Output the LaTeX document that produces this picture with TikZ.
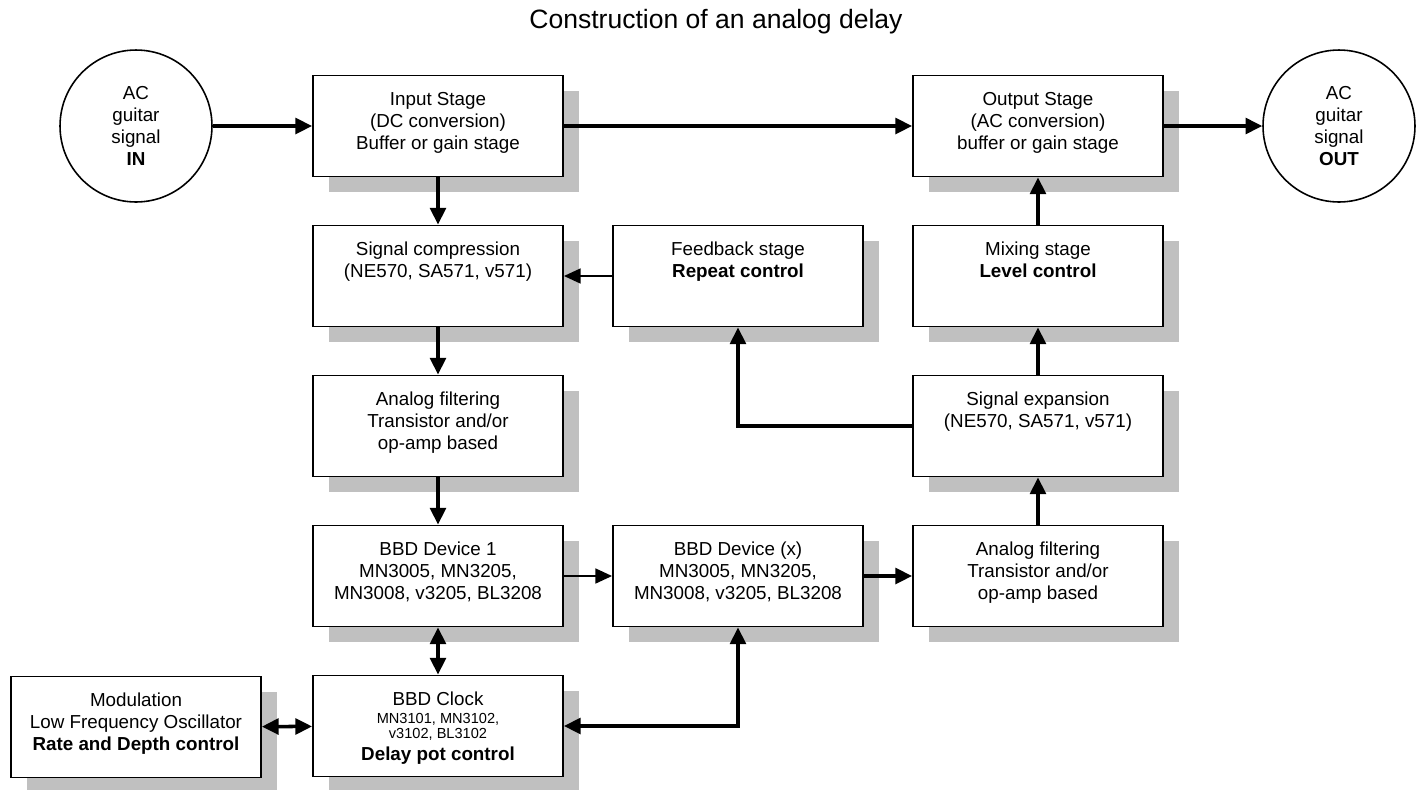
\documentclass[tikz,border=0pt]{standalone}
\usepackage{fontspec}
\setmainfont{Liberation Sans}
\usetikzlibrary{arrows.meta,shadows}
\definecolor{shadowgray}{RGB}{192,192,192}
\newcommand{\stagetext}[1]{\parbox[c][2.02cm][t]{5cm}{\centering\rule{0pt}{17pt}#1}}
\tikzset{
  stage/.style = {draw, line width=1.1pt, fill=white, inner sep=0pt, minimum width=5cm, minimum height=2.02cm,
    font=\fontsize{10.7}{12.5}\selectfont,
    drop shadow={shadow xshift=0.32cm, shadow yshift=-0.31cm, fill=shadowgray, opacity=1}},
  jack/.style = {draw, circle, line width=0.9pt, minimum size=3.04cm, inner sep=0pt, align=center,
    font=\fontsize{10.7}{12.5}\selectfont},
  thickarrow/.style = {line width=2pt, -{Triangle[length=9.5pt,width=9pt]}},
  thinarrow/.style = {line width=1.1pt, -{Triangle[length=9.5pt,width=8.5pt]}},
  botharrow/.style = {line width=2pt, {Triangle[length=9.5pt,width=9pt]}-{Triangle[length=9.5pt,width=9pt]}}
}
\begin{document}
\begin{tikzpicture}[x=0.02cm, y=-0.02cm]
    \useasboundingbox (0,0) rectangle (1421,789);
    \node (title) at (716,22) {\fontsize{15.1}{17}\selectfont Construction of an analog delay};

    \node[jack] (in) at (136,126) {AC\\guitar\\signal\\\textbf{IN}};
    \node[stage] (input) at (438,126) {\stagetext{Input Stage\\(DC conversion)\\Buffer or gain stage}};
    \node[stage] (output) at (1038,126) {\stagetext{Output Stage\\(AC conversion)\\buffer or gain stage}};
    \node[jack] (out) at (1339,126) {AC\\guitar\\signal\\\textbf{OUT}};

    \node[stage] (compress) at (438,276) {\stagetext{Signal compression\\(NE570, SA571, v571)}};
    \node[stage] (feedback) at (738,276) {\stagetext{Feedback stage\\\textbf{Repeat control}}};
    \node[stage] (mixing) at (1038,276) {\stagetext{Mixing stage\\\textbf{Level control}}};

    \node[stage] (filterin) at (438,426) {\stagetext{Analog filtering\\Transistor and/or\\op-amp based}};
    \node[stage] (expand) at (1038,426) {\stagetext{Signal expansion\\(NE570, SA571, v571)}};

    \node[stage] (bbdone) at (438,576) {\stagetext{BBD Device 1\\MN3005, MN3205,\\MN3008, v3205, BL3208}};
    \node[stage] (bbdx) at (738,576) {\stagetext{BBD Device (x)\\MN3005, MN3205,\\MN3008, v3205, BL3208}};
    \node[stage] (filterout) at (1038,576) {\stagetext{Analog filtering\\Transistor and/or\\op-amp based}};

    \node[stage] (lfo) at (136,727) {\stagetext{Modulation\\Low Frequency Oscillator\\\textbf{Rate and Depth control}}};
    \node[stage] (clock) at (438,726) {\stagetext{BBD Clock\\[1.4pt]{\fontsize{8.3}{9}\selectfont MN3101, MN3102,\\[-4pt]v3102, BL3102}\\[-0.3pt]\textbf{Delay pot control}}};

    \draw[thickarrow] (in) -- (input);
    \draw[thickarrow] (input) -- (output);
    \draw[thickarrow] (output) -- (out);
    \draw[thickarrow] (input) -- (compress);
    \draw[thinarrow] (feedback) -- (compress);
    \draw[thickarrow] (compress) -- (filterin);
    \draw[thickarrow] (filterin) -- (bbdone);
    \draw[thinarrow] (bbdone) -- (bbdx);
    \draw[thickarrow] (bbdx) -- (filterout);
    \draw[thickarrow] (filterout) -- (expand);
    \draw[thickarrow] (expand) -- (mixing);
    \draw[thickarrow] (mixing) -- (output);
    \draw[thickarrow] (expand) -| (feedback);
    \draw[botharrow] (bbdone) -- (clock);
    \draw[botharrow] (lfo) -- (clock);
    \draw[botharrow] (clock) -| (bbdx);
\end{tikzpicture}
\end{document}
